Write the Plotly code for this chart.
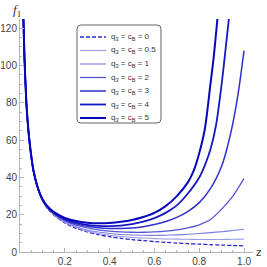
import plotly.graph_objects as go

# ---------------- data ----------------
Z_GRID = [0.014, 0.02, 0.025, 0.03, 0.04, 0.05, 0.06, 0.08, 0.1, 0.12, 0.15, 0.2,
          0.25, 0.3, 0.35, 0.4, 0.45, 0.5, 0.55, 0.6, 0.65, 0.7, 0.75, 0.8, 0.85,
          0.9, 0.95, 1.0]

F_Q0 = [130, 104, 89, 77, 62, 51.3, 43.2, 33.7, 27.7, 23.7, 19.9, 15.6, 12.7, 10.8,
        9.3, 8.2, 7.3, 6.6, 6.1, 5.6, 5.2, 4.8, 4.5, 4.2, 3.9, 3.7, 3.5, 3.3]
F_Q05 = [130, 104, 89, 77, 62, 51.3, 43.3, 33.8, 27.8, 23.8, 20.1, 15.9, 13.1, 11.2,
         9.9, 9.0, 8.3, 7.8, 7.5, 7.2, 7.0, 6.9, 6.8, 6.7, 6.7, 6.7, 6.8, 6.9]
F_Q1 = [130, 104, 89, 77, 62, 51.4, 43.4, 33.9, 27.9, 24.0, 20.3, 16.3, 13.6, 11.8,
        10.7, 9.9, 9.4, 9.1, 8.95, 8.9, 9.0, 9.2, 9.5, 9.9, 10.4, 10.9, 11.5, 12.2]
F_Q2 = [130, 104, 89, 77, 62, 51.5, 43.5, 34.0, 28.1, 24.2, 20.6, 16.8, 14.4, 12.9,
        11.9, 11.2, 10.8, 10.6, 10.6, 10.8, 11.2, 11.9, 13.0, 14.6, 17.4, 23.0, 30.0, 39.5]

Z_Q3 = [0.014, 0.02, 0.025, 0.03, 0.04, 0.05, 0.06, 0.08, 0.1, 0.12, 0.15, 0.2,
        0.25, 0.3, 0.35, 0.4, 0.45, 0.5, 0.55, 0.6, 0.65, 0.7, 0.75, 0.8, 0.85,
        0.9, 0.925, 0.95, 0.975, 1.0]
F_Q3 = [130, 104, 89, 77, 62, 51.6, 43.6, 34.1, 28.2, 24.4, 20.9, 17.3, 15.1, 13.8,
        13.0, 12.6, 12.6, 12.9, 13.6, 14.8, 16.4, 18.6, 21.8, 26.5, 34, 46, 56, 69, 86, 108]

Z_Q4 = [0.014, 0.02, 0.025, 0.03, 0.04, 0.05, 0.06, 0.08, 0.1, 0.12, 0.15, 0.2,
        0.25, 0.3, 0.35, 0.4, 0.45, 0.5, 0.55, 0.6, 0.65, 0.7, 0.75, 0.8, 0.825,
        0.85, 0.875, 0.9, 0.915, 0.935]
F_Q4 = [130, 104, 89, 77, 62, 51.7, 43.7, 34.2, 28.3, 24.6, 21.2, 17.8, 15.8, 14.6,
        14.0, 13.9, 14.2, 15.0, 16.3, 18.2, 21.0, 25.0, 31.5, 40, 46.5, 55, 68, 90, 106, 128]

Z_Q5 = [0.014, 0.02, 0.025, 0.03, 0.04, 0.05, 0.06, 0.08, 0.1, 0.12, 0.15, 0.2,
        0.25, 0.3, 0.35, 0.4, 0.45, 0.5, 0.55, 0.6, 0.65, 0.7, 0.75, 0.775, 0.8,
        0.825, 0.85, 0.865, 0.885]
F_Q5 = [130, 104, 89, 77, 62, 51.8, 43.8, 34.3, 28.4, 24.8, 21.5, 18.3, 16.6, 15.7,
        15.4, 15.6, 16.2, 17.2, 18.8, 21.0, 24.6, 30.0, 37.5, 43.5, 53, 66, 90, 105, 130]

LABELS = ["0", "0.5", "1", "2", "3", "4", "5"]
X_TICKS = [0.2, 0.4, 0.6, 0.8, 1.0]
Y_TICKS = [0, 20, 40, 60, 80, 100, 120]

# ---------------- styles ----------------
SERIES = [
    (Z_GRID, F_Q0, "#2a2ad0", 1.3, "4px,2px"),
    (Z_GRID, F_Q05, "#9a9ae8", 1.1, "solid"),
    (Z_GRID, F_Q1, "#7c7ce0", 1.1, "solid"),
    (Z_GRID, F_Q2, "#5656d6", 1.3, "solid"),
    (Z_Q3, F_Q3, "#3030cc", 1.5, "solid"),
    (Z_Q4, F_Q4, "#1818c2", 1.8, "solid"),
    (Z_Q5, F_Q5, "#0808b8", 2.0, "solid"),
]

W, H = 267, 267
ML, MR, MT, MB = 20, 14, 19, 15
PW, PH = W - ML - MR, H - MT - MB


def px2paper(px, py):
    return (px - ML) / PW, (H - MB - py) / PH


fig = go.Figure()
for (zs, fs, col, lw, dash), lab in zip(SERIES, LABELS):
    fig.add_trace(go.Scatter(
        x=zs, y=fs, mode="lines", name=lab,
        line=dict(color=col, width=lw, dash=dash, shape="spline", smoothing=0.8),
        showlegend=False, hoverinfo="skip"))

axis_col = "#b4b4b4"
tick_font = dict(family="Liberation Sans, Arial, sans-serif", size=10, color="#444444")

fig.update_xaxes(range=[0, 1.04], tickvals=X_TICKS, tickformat=".1f",
                 showline=True, linecolor=axis_col, linewidth=1,
                 ticks="inside", ticklen=4, tickcolor=axis_col,
                 minor=dict(dtick=0.05, ticks="inside", ticklen=2, tickcolor=axis_col),
                 showgrid=False, zeroline=False, tickfont=tick_font, automargin=False)
fig.update_yaxes(range=[0, 125], tickvals=Y_TICKS,
                 showline=True, linecolor=axis_col, linewidth=1,
                 ticks="inside", ticklen=4, tickcolor=axis_col,
                 minor=dict(dtick=5, ticks="inside", ticklen=2, tickcolor=axis_col),
                 showgrid=False, zeroline=False, tickfont=tick_font, automargin=False)

# ---------------- manual legend ----------------
bx0, by0, bx1, by1 = 77, 25, 161, 123
r = 4
x0, y0 = px2paper(bx0, by0)
x1, y1 = px2paper(bx1, by1)
rx, ry = r / PW, r / PH
path = (f"M {x0+rx},{y0} L {x1-rx},{y0} Q {x1},{y0} {x1},{y0-ry} "
        f"L {x1},{y1+ry} Q {x1},{y1} {x1-rx},{y1} L {x0+rx},{y1} "
        f"Q {x0},{y1} {x0},{y1+ry} L {x0},{y0-ry} Q {x0},{y0} {x0+rx},{y0} Z")
shapes = [dict(type="path", xref="paper", yref="paper", path=path,
               line=dict(color="#666666", width=1), fillcolor="white", layer="above")]
annotations = []
for i, ((zs, fs, col, lw, dash), lab) in enumerate(zip(SERIES, LABELS)):
    py = 37 + 13.5 * i
    lx0, ly = px2paper(80, py)
    lx1, _ = px2paper(106, py)
    shapes.append(dict(type="line", xref="paper", yref="paper",
                       x0=lx0, x1=lx1, y0=ly, y1=ly, layer="above",
                       line=dict(color=col, width=lw, dash=dash)))
    tx, _ = px2paper(109, py)
    annotations.append(dict(xref="paper", yref="paper", x=tx, y=ly,
                            xanchor="left", yanchor="middle", showarrow=False,
                            text=f"q<sub>3</sub> = c<sub>B</sub> = {lab}",
                            font=dict(family="Liberation Sans, Arial, sans-serif",
                                      size=8, color="#333333")))

fx, fy = px2paper(17, 10)
annotations.append(dict(xref="paper", yref="paper", x=fx, y=fy, showarrow=False,
                        xanchor="center", yanchor="middle",
                        text="<i>f</i><sub>1</sub>",
                        font=dict(family="Liberation Serif, Times New Roman, serif",
                                  size=13, color="#333333")))
zx, zy = px2paper(254, 252)
annotations.append(dict(xref="paper", yref="paper", x=zx, y=zy, showarrow=False,
                        xanchor="left", yanchor="middle", text="z",
                        font=dict(family="Liberation Sans, Arial, sans-serif",
                                  size=11, color="#333333")))

fig.update_layout(width=W, height=H,
                  margin=dict(l=ML, r=MR, t=MT, b=MB, pad=0),
                  paper_bgcolor="white", plot_bgcolor="white",
                  shapes=shapes, annotations=annotations, showlegend=False)

fig.write_html("out.html", config={"displayModeBar": False, "staticPlot": True},
               post_script="document.body.style.margin='0';document.body.style.padding='0';")
